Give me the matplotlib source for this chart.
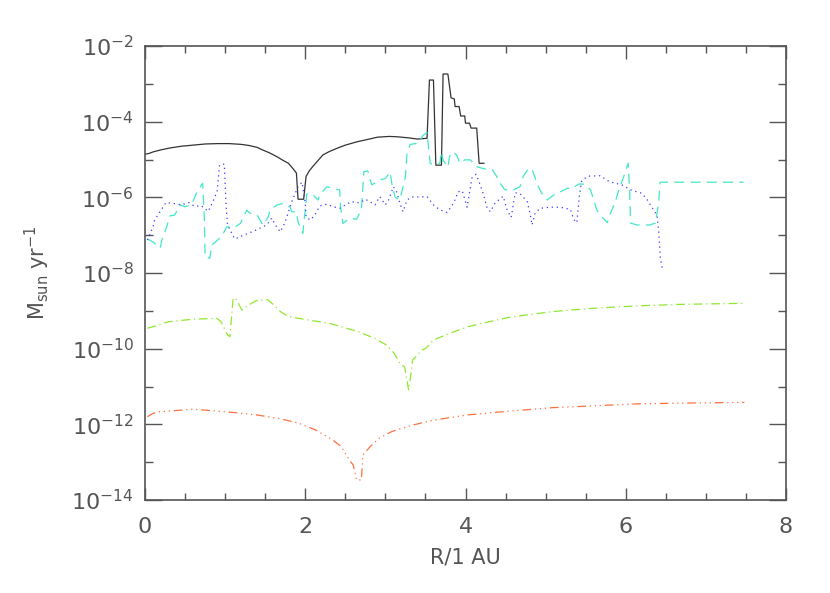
import numpy as np
import matplotlib
matplotlib.use("Agg")
import matplotlib.pyplot as plt
from matplotlib.ticker import NullFormatter

# ==== values (R in AU, log10 of rate in Msun/yr)
r_black = [0.0, 0.05, 0.1, 0.19, 0.3, 0.45, 0.6, 0.75, 0.9, 1.05, 1.2, 1.3, 1.4, 1.47,
           1.55, 1.65, 1.72, 1.79, 1.85, 1.89, 1.91, 1.98, 2.01, 2.05, 2.1, 2.15, 2.22,
           2.3, 2.4, 2.5, 2.65, 2.8, 2.9, 3.05, 3.15, 3.3, 3.4, 3.52, 3.55, 3.6, 3.63,
           3.7, 3.72, 3.78, 3.82, 3.86, 3.87, 3.92, 3.94, 3.99, 4.0, 4.05, 4.07, 4.14,
           4.17, 4.23]
lg_black = [-4.86, -4.84, -4.8, -4.75, -4.7, -4.65, -4.62, -4.59, -4.58, -4.58, -4.6,
            -4.63, -4.68, -4.75, -4.82, -4.93, -5.02, -5.1, -5.25, -5.36, -6.05, -6.05,
            -5.45, -5.3, -5.17, -5.05, -4.88, -4.79, -4.7, -4.62, -4.53, -4.46, -4.41,
            -4.39, -4.4, -4.43, -4.46, -4.44, -2.9, -2.9, -5.15, -5.15, -2.74, -2.74,
            -3.37, -3.4, -3.6, -3.6, -3.85, -3.85, -4.04, -4.04, -4.17, -4.17, -5.1,
            -5.1]

r_cyan = [0.03, 0.1, 0.19, 0.21, 0.27, 0.31, 0.37, 0.44, 0.5, 0.58, 0.65, 0.69, 0.72,
          0.74, 0.75, 0.81, 0.83, 0.87, 0.96, 1.02, 1.12, 1.19, 1.27, 1.31, 1.4, 1.47,
          1.54, 1.56, 1.65, 1.72, 1.81, 1.83, 1.89, 1.91, 1.97, 2.02, 2.08, 2.16, 2.18,
          2.27, 2.35, 2.43, 2.44, 2.47, 2.56, 2.64, 2.7, 2.72, 2.73, 2.78, 2.81, 2.83,
          2.93, 3.0, 3.06, 3.08, 3.12, 3.18, 3.25, 3.27, 3.31, 3.41, 3.47, 3.52, 3.54,
          3.56, 3.6, 3.68, 3.7, 3.72, 3.78, 3.8, 3.83, 3.89, 3.93, 3.99, 4.06, 4.14,
          4.24, 4.33, 4.39, 4.43, 4.49, 4.6, 4.68, 4.72, 4.78, 4.83, 4.87, 4.91, 4.95,
          5.02, 5.1, 5.18, 5.27, 5.33, 5.41, 5.49, 5.56, 5.6, 5.64, 5.7, 5.77, 5.8,
          5.87, 5.9, 5.96, 6.01, 6.03, 6.05, 6.06, 6.14, 6.3, 6.37, 6.41, 6.43, 7.47]
lg_cyan = [-7.1, -7.18, -7.34, -7.13, -6.79, -6.49, -6.47, -6.2, -6.25, -6.2, -5.85,
           -5.72, -5.63, -6.51, -7.58, -7.61, -7.26, -7.2, -7.02, -6.78, -6.79, -6.69,
           -6.34, -6.42, -6.47, -6.73, -6.51, -6.34, -6.2, -6.16, -6.25, -6.38, -6.38,
           -6.65, -6.95, -5.91, -5.9, -6.07, -5.94, -5.72, -5.76, -5.81, -6.25, -6.69,
           -6.55, -6.58, -6.34, -5.72, -5.33, -5.3, -5.54, -5.67, -5.54, -5.5, -5.33,
           -5.63, -5.99, -6.07, -5.46, -4.84, -4.6, -4.57, -4.36, -4.29, -4.7, -5.1,
           -5.15, -5.1, -4.8, -5.01, -5.2, -4.93, -4.8, -4.88, -5.1, -5.01, -5.01, -5.19,
           -5.25, -5.25, -5.45, -5.62, -5.8, -5.8, -5.72, -5.45, -5.25, -5.25, -5.49,
           -5.72, -5.89, -6.07, -5.94, -5.86, -5.76, -5.77, -5.65, -5.65, -5.8, -6.07,
           -6.34, -6.51, -6.67, -6.47, -6.12, -5.89, -5.54, -5.23, -5.1, -5.89, -6.68,
           -6.73, -6.73, -6.68, -6.16, -5.6, -5.6]

r_blue = [0.03, 0.1, 0.12, 0.2, 0.26, 0.35, 0.45, 0.55, 0.62, 0.7, 0.79, 0.85, 0.9,
          0.93, 0.99, 1.01, 1.03, 1.12, 1.23, 1.35, 1.52, 1.58, 1.65, 1.69, 1.75, 1.83,
          1.91, 1.96, 2.0, 2.01, 2.06, 2.12, 2.18, 2.27, 2.35, 2.43, 2.5, 2.58, 2.64,
          2.7, 2.75, 2.81, 2.87, 2.93, 3.0, 3.04, 3.1, 3.14, 3.18, 3.22, 3.27, 3.33,
          3.43, 3.52, 3.6, 3.68, 3.77, 3.85, 3.91, 3.96, 4.02, 4.08, 4.13, 4.16, 4.22,
          4.27, 4.31, 4.37, 4.47, 4.52, 4.57, 4.62, 4.68, 4.77, 4.81, 4.83, 4.87, 4.93,
          5.06, 5.18, 5.31, 5.35, 5.39, 5.42, 5.45, 5.53, 5.68, 5.8, 5.95, 6.08, 6.2,
          6.27, 6.35, 6.39, 6.41, 6.43, 6.46]
lg_blue = [-7.13, -6.78, -6.6, -6.34, -6.14, -6.16, -6.2, -6.14, -6.24, -6.22, -6.37,
           -6.1, -5.85, -5.15, -5.12, -6.15, -6.73, -7.1, -7.0, -6.9, -6.73, -6.55,
           -6.81, -6.91, -6.65, -6.12, -5.72, -5.6, -6.15, -6.51, -6.6, -6.47, -6.23,
           -6.18, -6.25, -6.29, -6.2, -6.11, -6.15, -6.12, -6.05, -6.12, -6.2, -5.98,
           -6.2, -6.07, -5.72, -5.85, -6.15, -6.38, -6.07, -5.99, -5.99, -5.98, -6.2,
           -6.33, -6.4, -6.16, -5.85, -5.83, -6.26, -5.49, -5.39, -5.54, -5.89, -6.28,
           -6.38, -6.15, -5.97, -6.34, -6.53, -5.88, -5.9, -6.11, -6.47, -6.73, -6.42,
           -6.29, -6.26, -6.26, -6.32, -6.58, -6.67, -5.98, -5.56, -5.44, -5.43, -5.59,
           -5.67, -5.82, -5.89, -6.07, -6.34, -6.47, -6.87, -7.57, -7.94]

r_green = [0.03, 0.1, 0.29, 0.6, 0.9, 0.95, 1.03, 1.06, 1.1, 1.13, 1.21, 1.29, 1.39,
           1.53, 1.61, 1.69, 1.79, 2.03, 2.3, 2.45, 2.66, 2.87, 3.01, 3.11, 3.19, 3.24,
           3.29, 3.31, 3.34, 3.4, 3.45, 3.5, 3.6, 3.82, 4.03, 4.29, 4.55, 5.08, 5.61,
           6.13, 6.66, 7.5]
lg_green = [-9.46, -9.42, -9.29, -9.22, -9.2, -9.29, -9.64, -9.68, -8.67, -8.67, -8.98,
            -8.85, -8.73, -8.7, -8.85, -9.02, -9.15, -9.24, -9.33, -9.42, -9.55, -9.73,
            -9.9, -10.12, -10.43, -10.48, -11.09, -10.83, -10.3, -10.17, -10.04, -10.0,
            -9.77, -9.58, -9.42, -9.29, -9.17, -9.02, -8.93, -8.87, -8.83, -8.8]

r_orange = [0.03, 0.1, 0.18, 0.6, 1.02, 1.39, 1.66, 1.92, 2.13, 2.34, 2.45, 2.55, 2.6,
            2.64, 2.7, 2.72, 2.81, 2.92, 3.08, 3.34, 3.6, 4.03, 4.55, 5.08, 5.61, 6.13,
            6.66, 7.48]
lg_orange = [-11.8, -11.71, -11.67, -11.6, -11.67, -11.75, -11.84, -11.97, -12.15,
             -12.41, -12.59, -12.94, -13.08, -13.47, -13.47, -12.81, -12.59, -12.37,
             -12.19, -12.02, -11.89, -11.75, -11.65, -11.56, -11.51, -11.46, -11.44,
             -11.42]

major_y = [1e-14, 1e-12, 1e-10, 1e-8, 1e-6, 1e-4, 1e-2]
minor_y = [1e-13, 1e-11, 1e-9, 1e-7, 1e-5, 1e-3]

AXC = '#555555'
TXC = '#555555'

fig = plt.figure(figsize=(8.3, 5.93), dpi=100)
ax = fig.add_axes([145 / 830, 1 - 500 / 593, 641 / 830, 454 / 593])

lw = 0.9
ax.plot(r_black, 10 ** np.array(lg_black), color='#333333', lw=lw)
ax.plot(r_cyan, 10 ** np.array(lg_cyan), color='#40e8c8', lw=lw, dashes=(8, 5))
ax.plot(r_blue, 10 ** np.array(lg_blue), color='#3a3aff', lw=lw, dashes=(1, 3))
ax.plot(r_green, 10 ** np.array(lg_green), color='#8ee830', lw=lw, dashes=(7, 3, 1, 3))
ax.plot(r_orange, 10 ** np.array(lg_orange), color='#ff7040', lw=lw,
        dashes=(7, 3, 1, 3, 1, 3, 1, 3))

ax.set_yscale('log')
ax.set_xlim(0, 8)
ax.set_ylim(1e-14, 1e-2)
ax.set_xticks([0, 2, 4, 6, 8])
ax.set_xticks(np.arange(0, 8.01, 0.5), minor=True)
ax.set_yticks(major_y)
ax.set_yticks(minor_y, minor=True)
ax.yaxis.set_minor_formatter(NullFormatter())

for s in ax.spines.values():
    s.set_color(AXC)
    s.set_linewidth(1.2)
ax.tick_params(which='both', direction='in', top=True, right=True, colors=AXC,
               labelcolor=TXC, labelsize=16, width=1.0)
ax.tick_params(axis='x', which='major', length=9, pad=12)
ax.tick_params(axis='x', which='minor', length=5)
ax.tick_params(axis='y', which='major', length=12, pad=8)
ax.tick_params(axis='y', which='minor', length=6)

ax.set_xlabel('R/1 AU', fontsize=15, color=TXC, labelpad=8)
ax.set_ylabel(r'M$_{\rm sun}$ yr$^{-1}$', fontsize=15, color=TXC, labelpad=14)

fig.savefig('out.png', dpi=100)
